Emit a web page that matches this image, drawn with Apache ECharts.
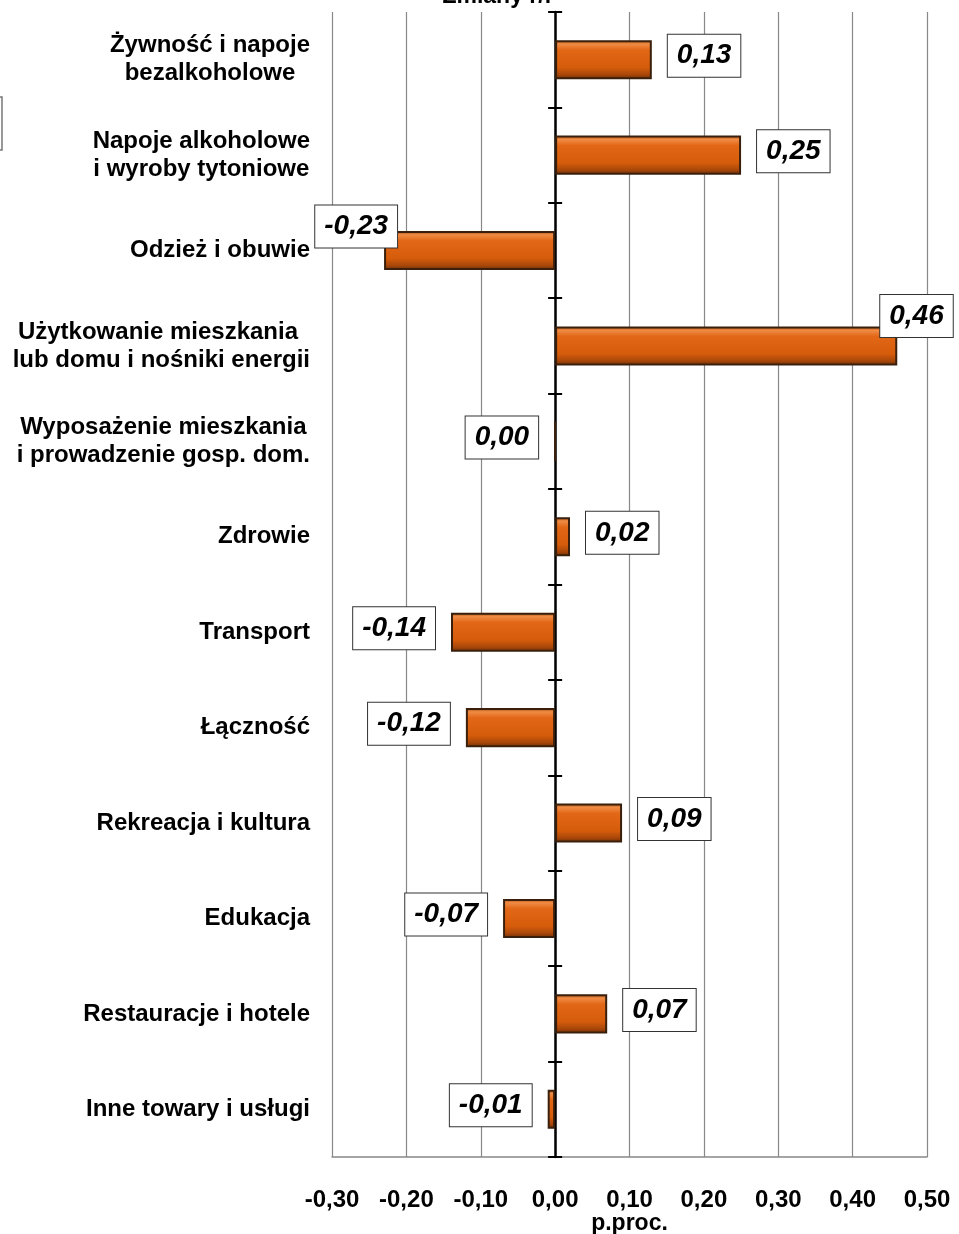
<!DOCTYPE html>
<html>
<head>
<meta charset="utf-8">
<script src="https://cdn.jsdelivr.net/npm/echarts@6/dist/echarts.min.js"></script>
<style>
html,body{margin:0;padding:0;background:#fff;}
#c{width:959px;height:1234px;}
</style>
</head>
<body>
<div id="c"></div>
<script>
const categories = [
  "Żywność i napoje\nbezalkoholowe",
  "Napoje alkoholowe\ni wyroby tytoniowe",
  "Odzież i obuwie",
  "Użytkowanie mieszkania \nlub domu i nośniki energii",
  "Wyposażenie mieszkania\ni prowadzenie gosp. dom.",
  "Zdrowie",
  "Transport",
  "Łączność",
  "Rekreacja i kultura",
  "Edukacja",
  "Restauracje i hotele",
  "Inne towary i usługi"
];
const values = [0.13, 0.25, -0.23, 0.46, 0.00, 0.02, -0.14, -0.12, 0.09, -0.07, 0.07, -0.01];
const xTicks = { min: -0.30, max: 0.50, step: 0.10 };
const titleText = "Zmiany r/r";
const xName = "p.proc.";

// style-only overrides for label placement (index -> offset)
const labelOffsets = { 2: [29, -24], 3: [-33, -30] };

const FONT = "'Liberation Sans', Arial, sans-serif";
const fmt = v => v.toFixed(2).replace('.', ',');

const GRID = { left: 332, right: 32, top: 12, bottom: 77 };
const gridWidth = 959 - GRID.left - GRID.right;
const zeroOffset = -gridWidth * (0 - xTicks.min) / (xTicks.max - xTicks.min);

const barGradient = {
  type: 'linear', x: 0, y: 0, x2: 0, y2: 1,
  colorStops: [
    { offset: 0, color: '#a84a0c' },
    { offset: 0.1, color: '#f08c45' },
    { offset: 0.25, color: '#e26818' },
    { offset: 0.7, color: '#d55c0b' },
    { offset: 0.88, color: '#a8470a' },
    { offset: 1, color: '#6e2e05' }
  ]
};

const seriesData = values.map((v, i) => {
  const neg = v <= 0;
  const off = labelOffsets[i] || [0, -4];
  return {
    value: v,
    label: { position: neg ? 'left' : 'right', offset: off }
  };
});

const chart = echarts.init(document.getElementById('c'), null, { renderer: 'canvas' });
const catAxisBase = {
  type: 'category',
  inverse: true,
  data: categories,
  gridIndex: 0
};
chart.setOption({
  animation: false,
  backgroundColor: '#fff',
  title: {
    text: titleText,
    left: 493,
    top: -20,
    textAlign: 'center',
    textStyle: { fontFamily: FONT, fontWeight: 'bold', fontSize: 23, color: '#000' }
  },
  grid: Object.assign({ containLabel: false, outerBoundsMode: 'none' }, GRID),
  xAxis: {
    type: 'value',
    min: xTicks.min,
    max: xTicks.max,
    interval: xTicks.step,
    name: xName,
    nameLocation: 'middle',
    nameGap: 55,
    nameMoveOverlap: false,
    nameTextStyle: { fontFamily: FONT, fontWeight: 'bold', fontSize: 23, color: '#000', lineHeight: 23 },
    axisLine: { show: true, onZero: false, lineStyle: { color: '#888', width: 1.5 } },
    axisTick: { show: false },
    splitLine: { show: true, lineStyle: { color: '#888', width: 1.2 } },
    axisLabel: {
      margin: 33,
      lineHeight: 20,
      formatter: v => fmt(v),
      fontFamily: FONT, fontWeight: 'bold', fontSize: 24, color: '#000'
    }
  },
  yAxis: [
    Object.assign({}, catAxisBase, {
      position: 'left',
      axisLine: { show: false, onZero: false },
      axisTick: { show: false },
      splitLine: { show: false },
      axisLabel: {
        margin: 22,
        align: 'right',
        fontFamily: FONT, fontWeight: 'bold', fontSize: 24, color: '#000',
        lineHeight: 28,
        formatter: v => v.split('\n').map(s => '{c|' + s + '}').join('\n'),
        rich: { c: { align: 'center', fontFamily: FONT, fontWeight: 'bold', fontSize: 24, color: '#000', lineHeight: 28 } }
      }
    }),
    Object.assign({}, catAxisBase, {
      position: 'left',
      axisLine: { show: true, onZero: true, lineStyle: { color: '#000', width: 2.5 } },
      axisTick: { show: true, length: 7, lineStyle: { color: '#000', width: 2 } },
      axisLabel: { show: false },
      splitLine: { show: false }
    }),
    Object.assign({}, catAxisBase, {
      position: 'left',
      offset: zeroOffset,
      axisLine: { show: false, onZero: false },
      axisTick: { show: true, inside: true, length: 7, lineStyle: { color: '#000', width: 2 } },
      axisLabel: { show: false },
      splitLine: { show: false }
    })
  ],
  series: [{
    type: 'bar',
    yAxisIndex: 0,
    barWidth: '41%',
    data: seriesData,
    itemStyle: { color: barGradient, borderColor: '#3a200c', borderWidth: 2 },
    label: {
      show: true,
      distance: 16,
      formatter: p => fmt(p.value),
      fontFamily: FONT, fontWeight: 'bold', fontStyle: 'italic', fontSize: 28, color: '#000',
      backgroundColor: '#fff',
      borderColor: '#333', borderWidth: 1,
      padding: [5, 9, 4, 9],
      lineHeight: 33
    },
    z: 5
  }],
  graphic: [{
    type: 'rect',
    shape: { x: -10, y: 97, width: 12, height: 53 },
    style: { fill: '#fff', stroke: '#777', lineWidth: 1.5 }
  }]
});
</script>
</body>
</html>
